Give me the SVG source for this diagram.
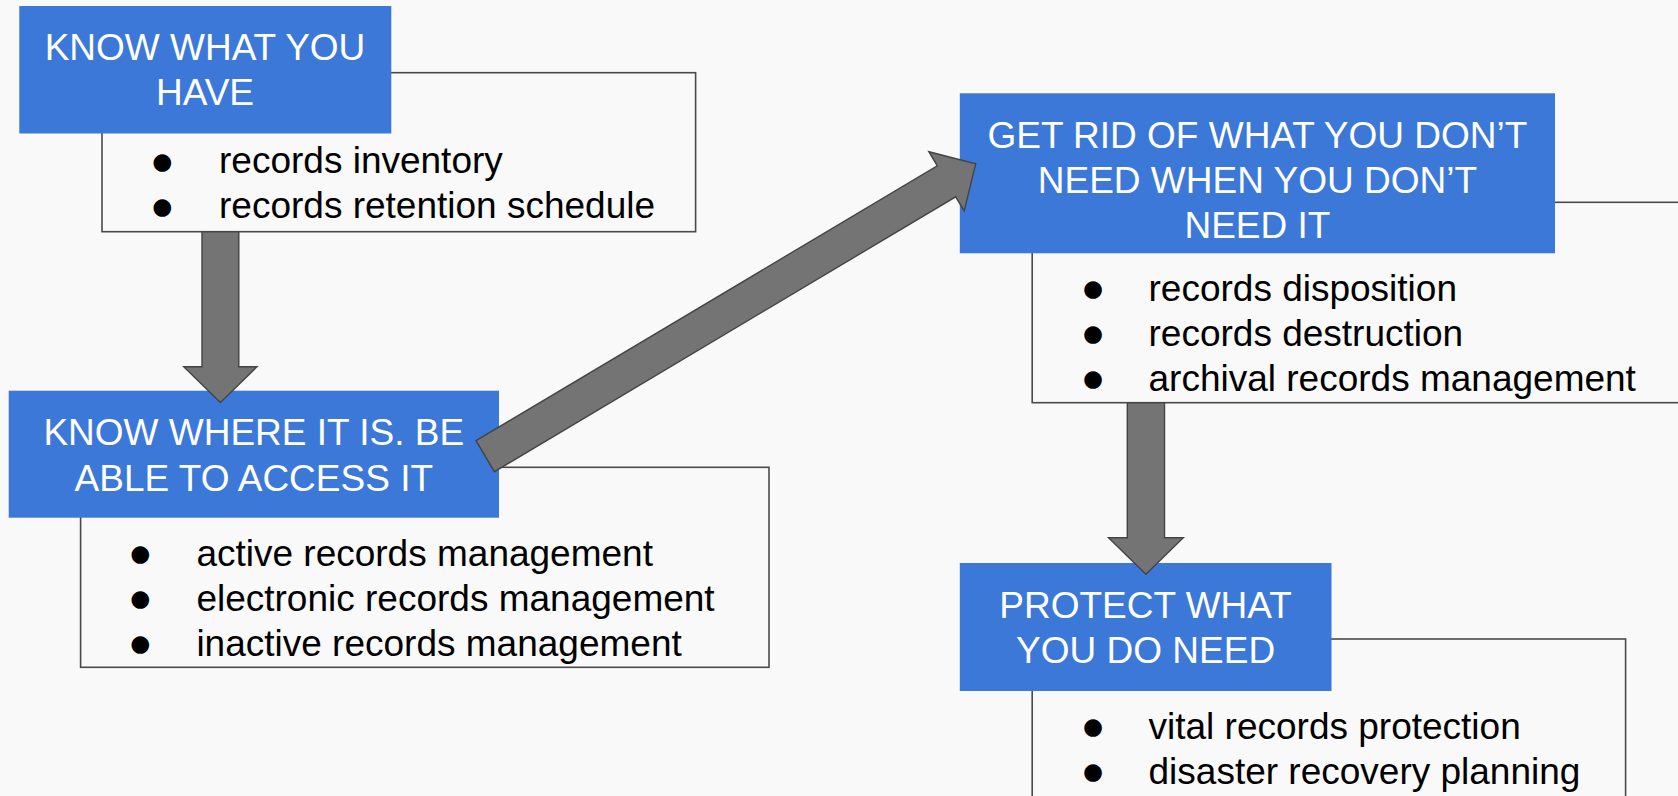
<svg xmlns="http://www.w3.org/2000/svg" width="1678" height="796" viewBox="0 0 1678 796">
<style>
.bg{fill:#f9f9f9}
.title{fill:#3c78d8}
.ttext{font-family:"Liberation Sans",Arial,sans-serif;font-size:37px;fill:#ffffff;text-anchor:middle}
.list{fill:none;stroke:#4a4a4a;stroke-width:1.6}
.item{font-family:"Liberation Sans",Arial,sans-serif;font-size:37px;fill:#000000}
.bul{font-family:"DejaVu Sans",sans-serif;font-size:23px;fill:#000000;text-anchor:middle}
.arrow{fill:#747474;stroke:#444444;stroke-width:1.4;stroke-linejoin:miter}
</style>
<rect class="bg" x="0" y="0" width="1678" height="796"/>

<g id="node-know-what">
<rect class="list" x="102" y="72.7" width="593.6" height="159"/>
<rect class="title" x="19.3" y="6" width="372" height="127.5"/>
<text class="ttext" x="205" y="60">KNOW WHAT YOU</text>
<text class="ttext" x="205" y="105">HAVE</text>
<text class="bul" x="162.3" y="168.5">●</text>
<text class="item" x="219" y="173">records inventory</text>
<text class="bul" x="162.3" y="213.5">●</text>
<text class="item" x="219" y="218">records retention schedule</text>
</g>

<g id="node-know-where">
<rect class="list" x="80.6" y="467.3" width="688.4" height="200"/>
<rect class="title" x="8.7" y="390.7" width="490.3" height="127"/>
<text class="ttext" x="253.8" y="445">KNOW WHERE IT IS. BE</text>
<text class="ttext" x="253.8" y="490.5">ABLE TO ACCESS IT</text>
<text class="bul" x="140.3" y="561">●</text>
<text class="item" x="196.4" y="565.5">active records management</text>
<text class="bul" x="140.3" y="606">●</text>
<text class="item" x="196.4" y="610.5">electronic records management</text>
<text class="bul" x="140.3" y="651">●</text>
<text class="item" x="196.4" y="655.5">inactive records management</text>
</g>

<g id="node-get-rid">
<rect class="list" x="1032.2" y="202.3" width="700" height="200.4"/>
<rect class="title" x="959.8" y="93.3" width="595.2" height="160"/>
<text class="ttext" x="1257.4" y="148.3">GET RID OF WHAT YOU DON’T</text>
<text class="ttext" x="1257.4" y="193.3">NEED WHEN YOU DON’T</text>
<text class="ttext" x="1257.4" y="238.3">NEED IT</text>
<text class="bul" x="1093" y="296">●</text>
<text class="item" x="1148.5" y="300.5">records disposition</text>
<text class="bul" x="1093" y="341">●</text>
<text class="item" x="1148.5" y="345.5">records destruction</text>
<text class="bul" x="1093" y="386">●</text>
<text class="item" x="1148.5" y="390.5">archival records management</text>
</g>

<g id="node-protect">
<rect class="list" x="1032.2" y="639" width="593.4" height="220"/>
<rect class="title" x="959.8" y="563" width="371.7" height="128"/>
<text class="ttext" x="1145.6" y="618.3">PROTECT WHAT</text>
<text class="ttext" x="1145.6" y="663.3">YOU DO NEED</text>
<text class="bul" x="1093" y="734">●</text>
<text class="item" x="1148.5" y="738.5">vital records protection</text>
<text class="bul" x="1093" y="779">●</text>
<text class="item" x="1148.5" y="783.5">disaster recovery planning</text>
</g>

<g id="connectors">
<polygon class="arrow" points="202,231.7 238.8,231.7 238.8,366.7 257,366.7 220.4,402.5 183.7,366.7 202,366.7"/>
<polygon class="arrow" points="476,440.7 937.3,165.8 928.8,151.7 975.7,163.8 964.2,210.9 955.7,196.8 494.4,471.7"/>
<polygon class="arrow" points="1127.3,402.7 1164.5,402.7 1164.5,537.7 1183.3,537.7 1145.9,574.3 1108.5,537.7 1127.3,537.7"/>
</g>
</svg>
